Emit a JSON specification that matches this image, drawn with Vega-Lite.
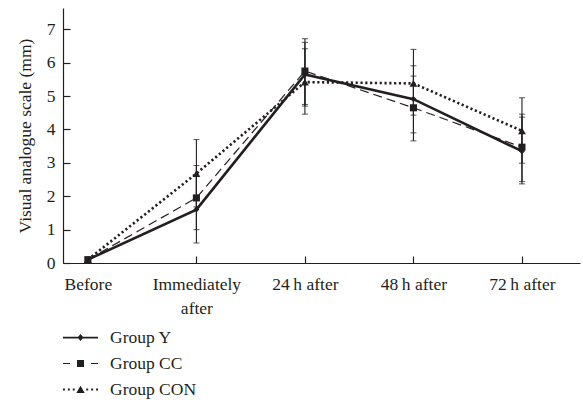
{
  "$schema": "https://vega.github.io/schema/vega-lite/v6.json",
  "width": 517,
  "height": 255,
  "autosize": "none",
  "padding": {"left": 63, "top": 8, "right": 3, "bottom": 143},
  "background": "white",
  "config": {
    "view": {"stroke": null},
    "font": "Liberation Serif",
    "axis": {
      "grid": false,
      "domainColor": "#231f20",
      "domainWidth": 1.2,
      "tickColor": "#231f20",
      "tickWidth": 1.2,
      "labelColor": "#231f20",
      "labelFont": "Liberation Serif",
      "labelFontSize": 17.5,
      "titleFont": "Liberation Serif",
      "titleFontSize": 17.5,
      "titleFontWeight": "normal",
      "titleColor": "#231f20"
    },
    "axisY": {"tickCount": 8, "values": [0, 1, 2, 3, 4, 5, 6, 7], "tickSize": -7, "labelPadding": 15}
  },
  "data": {
    "values": [
      {"time": "Before", "group": "Group Y", "mean": 0.1, "lo": 0.05, "hi": 0.15},
      {"time": "Before", "group": "Group CC", "mean": 0.1, "lo": 0.05, "hi": 0.15},
      {"time": "Before", "group": "Group CON", "mean": 0.1, "lo": 0.05, "hi": 0.15},
      {"time": "Immediately after", "group": "Group Y", "mean": 1.6, "lo": 0.6, "hi": 2.6},
      {"time": "Immediately after", "group": "Group CC", "mean": 1.95, "lo": 1.0, "hi": 2.92},
      {"time": "Immediately after", "group": "Group CON", "mean": 2.68, "lo": 1.68, "hi": 3.7},
      {"time": "24h after", "group": "Group Y", "mean": 5.65, "lo": 4.7, "hi": 6.61},
      {"time": "24h after", "group": "Group CC", "mean": 5.75, "lo": 4.75, "hi": 6.72},
      {"time": "24h after", "group": "Group CON", "mean": 5.42, "lo": 4.46, "hi": 6.42},
      {"time": "48h after", "group": "Group Y", "mean": 4.91, "lo": 3.9, "hi": 5.91},
      {"time": "48h after", "group": "Group CC", "mean": 4.65, "lo": 3.66, "hi": 5.6},
      {"time": "48h after", "group": "Group CON", "mean": 5.38, "lo": 4.43, "hi": 6.4},
      {"time": "72h after", "group": "Group Y", "mean": 3.35, "lo": 2.37, "hi": 4.37},
      {"time": "72h after", "group": "Group CC", "mean": 3.47, "lo": 2.44, "hi": 4.46},
      {"time": "72h after", "group": "Group CON", "mean": 3.96, "lo": 2.99, "hi": 4.95}
    ]
  },
  "encoding": {
    "x": {
      "field": "time",
      "type": "ordinal",
      "sort": ["Before", "Immediately after", "24h after", "48h after", "72h after"],
      "scale": {"type": "point", "padding": 0.382, "align": 0.3},
      "axis": {
        "title": null,
        "labelAngle": 0,
        "tickSize": -7,
        "labelPadding": 19,
        "labelLineHeight": 24.5,
        "labelBaseline": "top",
        "labelExpr": "datum.label == 'Immediately after' ? ['Immediately', 'after'] : replace(datum.label, 'h after', '\u2009h after')"
      }
    }
  },
  "layer": [
    {
      "mark": {"type": "rule", "stroke": "#231f20", "strokeWidth": 1.1},
      "encoding": {
        "y": {
          "field": "lo",
          "type": "quantitative",
          "scale": {"domain": [0, 7.64], "nice": false, "zero": true},
          "axis": {"title": "Visual analogue scale (mm)", "values": [0, 1, 2, 3, 4, 5, 6, 7], "titlePadding": 12}
        },
        "y2": {"field": "hi"}
      }
    },
    {
      "mark": {"type": "tick", "orient": "horizontal", "size": 6, "thickness": 1.1, "color": "#231f20"},
      "encoding": {"y": {"field": "lo", "type": "quantitative", "axis": {"title": "Visual analogue scale (mm)", "values": [0, 1, 2, 3, 4, 5, 6, 7], "titlePadding": 12}}}
    },
    {
      "mark": {"type": "tick", "orient": "horizontal", "size": 6, "thickness": 1.1, "color": "#231f20"},
      "encoding": {"y": {"field": "hi", "type": "quantitative", "axis": {"title": "Visual analogue scale (mm)", "values": [0, 1, 2, 3, 4, 5, 6, 7], "titlePadding": 12}}}
    },
    {
      "transform": [{"filter": "datum.group === 'Group CON'"}],
      "mark": {"type": "line", "color": "#231f20", "strokeWidth": 2.6, "strokeDash": [2.2, 2.6]},
      "encoding": {"y": {"field": "mean", "type": "quantitative", "axis": {"title": "Visual analogue scale (mm)", "values": [0, 1, 2, 3, 4, 5, 6, 7], "titlePadding": 12}}}
    },
    {
      "transform": [{"filter": "datum.group === 'Group CC'"}],
      "mark": {"type": "line", "color": "#231f20", "strokeWidth": 1.2, "strokeDash": [9, 5]},
      "encoding": {"y": {"field": "mean", "type": "quantitative", "axis": {"title": "Visual analogue scale (mm)", "values": [0, 1, 2, 3, 4, 5, 6, 7], "titlePadding": 12}}}
    },
    {
      "transform": [{"filter": "datum.group === 'Group Y'"}],
      "mark": {"type": "line", "color": "#231f20", "strokeWidth": 2.6},
      "encoding": {"y": {"field": "mean", "type": "quantitative", "axis": {"title": "Visual analogue scale (mm)", "values": [0, 1, 2, 3, 4, 5, 6, 7], "titlePadding": 12}}}
    },
    {
      "mark": {"type": "point", "filled": true, "color": "#231f20", "opacity": 1},
      "encoding": {
        "y": {"field": "mean", "type": "quantitative", "axis": {"title": "Visual analogue scale (mm)", "values": [0, 1, 2, 3, 4, 5, 6, 7], "titlePadding": 12}},
        "size": {
          "condition": [
            {"test": "datum.group === 'Group Y'", "value": 36},
            {"test": "datum.group === 'Group CC'", "value": 50}
          ],
          "value": 60
        },
        "shape": {
          "condition": [
            {"test": "datum.group === 'Group Y'", "value": "diamond"},
            {"test": "datum.group === 'Group CC'", "value": "square"}
          ],
          "value": "triangle-up"
        }
      }
    },
    {
      "mark": {"type": "point", "filled": true, "color": "#231f20", "opacity": 0, "size": 1},
      "encoding": {
        "y": {"field": "mean", "type": "quantitative", "axis": {"title": "Visual analogue scale (mm)", "values": [0, 1, 2, 3, 4, 5, 6, 7], "titlePadding": 12}},
        "shape": {
          "field": "group",
          "type": "nominal",
          "scale": {
            "domain": ["Group Y", "Group CC", "Group CON"],
            "range": [
              "M-1,-0.05H1V0.05H-1Z M0,-0.2L0.17,0L0,0.2L-0.17,0Z",
              "M-1,-0.03H-0.6V0.03H-1Z M-0.2,-0.2H0.2V0.2H-0.2Z M0.6,-0.03H1V0.03H0.6Z",
              "M-1,-0.055H-0.89V0.055H-1Z M-0.72,-0.055H-0.61V0.055H-0.72Z M-0.44,-0.055H-0.33V0.055H-0.44Z M-0.24,0.2L0,-0.22L0.24,0.2Z M0.33,-0.055H0.44V0.055H0.33Z M0.61,-0.055H0.72V0.055H0.61Z M0.89,-0.055H1V0.055H0.89Z"
            ]
          },
          "legend": {
            "title": null,
            "orient": "none",
            "legendX": 0,
            "legendY": 312,
            "direction": "vertical",
            "padding": 0,
            "symbolSize": 1225,
            "symbolOpacity": 1,
            "symbolFillColor": "#231f20",
            "symbolStrokeColor": "transparent",
            "symbolStrokeWidth": 0,
            "labelFont": "Liberation Serif",
            "labelFontSize": 17.5,
            "labelColor": "#231f20",
            "labelOffset": 12,
            "rowPadding": -11
          }
        }
      }
    }
  ]
}
